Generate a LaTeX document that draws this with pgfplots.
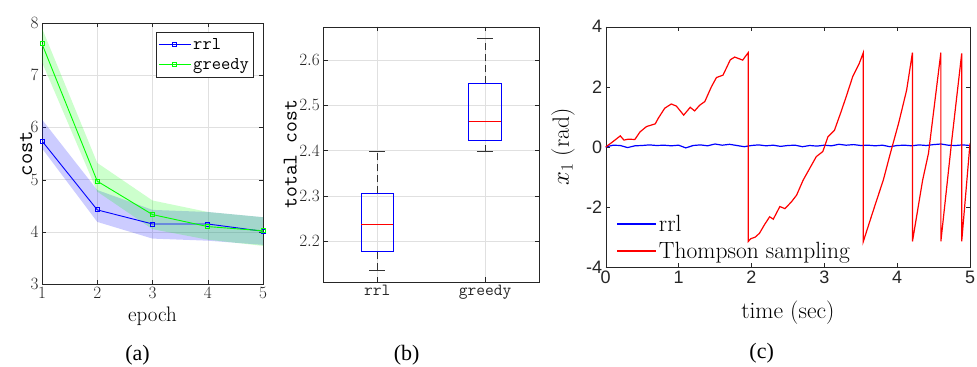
\documentclass[border=0pt]{standalone}
\usepackage{pgfplots}
\pgfplotsset{compat=1.18}
\usepgfplotslibrary{statistics}
\usepackage{fontspec}
\newfontfamily\capfont{Liberation Serif}
\newfontfamily\sansfont{Liberation Sans}
\definecolor{axgray}{gray}{0.15}
\definecolor{pureblue}{rgb}{0,0,1}
\definecolor{purered}{rgb}{1,0,0}
\begin{document}
\begin{tikzpicture}[x=1bp,y=1bp]
\path[use as bounding box] (0,0) rectangle (977,-366);
% ---------------- (a)
\begin{axis}[at={(42bp,-23bp)}, anchor=north west, scale only axis,
  width=221bp, height=261bp,
  xmin=1, xmax=5, ymin=3, ymax=8,
  xtick={1,2,3,4,5}, ytick={3,4,5,6,7,8},
  grid=major, grid style={black!12},
  axis line style={axgray}, tick style={axgray},
  ticklabel style={font=\fontsize{16.5bp}{16.5bp}\selectfont, text=axgray},
  xlabel={epoch}, xlabel style={font=\fontsize{21bp}{21bp}\selectfont, at={(axis description cs:0.5,-0.125)}, anchor=center},
  ylabel={\ttfamily cost}, ylabel style={font=\fontsize{22bp}{22bp}\selectfont, at={(axis description cs:-0.072,0.5)}, anchor=center},
  legend style={font=\ttfamily\fontsize{18bp}{18bp}\selectfont, draw=axgray, at={(axis description cs:0.955,0.966)}, anchor=north east, row sep=4bp, inner ysep=4bp, inner xsep=2bp},
  legend cell align=left,
  legend image code/.code={\draw[mark repeat=2,mark phase=2,#1] plot coordinates {(0bp,0bp) (16bp,0bp) (32bp,0bp)};},
]
\addplot[draw=none, fill=blue, fill opacity=0.2, forget plot] coordinates {(1,6.15) (2,4.80) (3,4.42) (4,4.38) (5,4.28) (5,3.75) (4,3.83) (3,3.87) (2,4.19) (1,5.60)} -- cycle;
\addplot[draw=none, fill=green, fill opacity=0.2, forget plot] coordinates {(1,7.90) (2,5.32) (3,4.60) (4,4.38) (5,4.28) (5,3.73) (4,3.85) (3,4.05) (2,4.77) (1,7.25)} -- cycle;
\addplot[draw=blue, line width=0.9bp, mark=square, mark size=2bp] coordinates {(1,5.74) (2,4.42) (3,4.15) (4,4.15) (5,4.01)};
\addplot[draw=green, line width=0.9bp, mark=square, mark size=2bp] coordinates {(1,7.60) (2,4.97) (3,4.33) (4,4.10) (5,4.02)};
\legend{rrl,greedy}
\node[anchor=south west, font=\fontsize{13bp}{13bp}\selectfont, text=axgray, inner sep=1bp] at (rel axis cs:0,1) {$\times10^{-5}$};
\end{axis}
% ---------------- (b)
\begin{axis}[at={(323.3bp,-26.7bp)}, anchor=north west, scale only axis,
  width=215.7bp, height=255bp,
  xmin=0.5, xmax=2.5, ymin=2.110, ymax=2.674,
  xtick={1,2}, xticklabels={rrl,greedy},
  ytick={2.2,2.3,2.4,2.5,2.6},
  scaled y ticks=false,
  yticklabel style={/pgf/number format/.cd, fixed, precision=1, fixed zerofill},
  grid=major, grid style={black!12},
  axis line style={axgray}, tick style={axgray},
  ticklabel style={font=\fontsize{17bp}{17bp}\selectfont, text=axgray},
  xticklabel style={font=\ttfamily\fontsize{17bp}{17bp}\selectfont},
  ylabel={\ttfamily total cost}, ylabel style={font=\fontsize{21bp}{21bp}\selectfont, at={(axis description cs:-0.153,0.5)}, anchor=center},
  boxplot/draw direction=y,
  boxplot/every box/.style={draw=blue, solid, line width=0.9bp},
  boxplot/every median/.style={draw=red, solid, line width=0.9bp},
  boxplot/every whisker/.style={draw=black!80, line width=0.9bp},
  boxplot/draw/lower whisker/.code={%
    \draw[/pgfplots/boxplot/every whisker/.try, dash pattern=on 7bp off 4bp]
      (boxplot box cs:\pgfplotsboxplotvalue{lower whisker},0.5) -- (boxplot box cs:\pgfplotsboxplotvalue{lower quartile},0.5);
    \draw[/pgfplots/boxplot/every whisker/.try]
      (boxplot whisker cs:\pgfplotsboxplotvalue{lower whisker},0) -- (boxplot whisker cs:\pgfplotsboxplotvalue{lower whisker},1);
  },
  boxplot/draw/upper whisker/.code={%
    \draw[/pgfplots/boxplot/every whisker/.try, dash pattern=on 7bp off 4bp]
      (boxplot box cs:\pgfplotsboxplotvalue{upper quartile},0.5) -- (boxplot box cs:\pgfplotsboxplotvalue{upper whisker},0.5);
    \draw[/pgfplots/boxplot/every whisker/.try]
      (boxplot whisker cs:\pgfplotsboxplotvalue{upper whisker},0) -- (boxplot whisker cs:\pgfplotsboxplotvalue{upper whisker},1);
  },
]
\addplot[black, boxplot prepared={draw position=1, lower whisker=2.135, lower quartile=2.176, median=2.237, upper quartile=2.3055, upper whisker=2.398, box extend=0.3, whisker extend=0.15}] coordinates {};
\addplot[black, boxplot prepared={draw position=2, lower whisker=2.397, lower quartile=2.423, median=2.4635, upper quartile=2.549, upper whisker=2.649, box extend=0.3, whisker extend=0.15}] coordinates {};
\node[anchor=south west, font=\fontsize{14bp}{14bp}\selectfont, text=axgray, inner sep=1bp] at (rel axis cs:0,1) {$\times10^{-4}$};
\end{axis}
% ---------------- (c)
\begin{axis}[at={(605.7bp,-26.7bp)}, anchor=north west, scale only axis,
  width=364.3bp, height=240.6bp,
  xmin=0, xmax=5, ymin=-4, ymax=4,
  xtick={0,1,2,3,4,5}, xticklabels={0,1,2,3,4,5},
  ytick={-4,-2,0,2,4}, yticklabels={-4,-2,0,2,4},
  axis line style={axgray}, tick style={axgray},
  ticklabel style={font=\sansfont\fontsize{18bp}{18bp}\selectfont, text=axgray},
  xlabel={time (sec)}, xlabel style={font=\fontsize{23.5bp}{23.5bp}\selectfont, at={(axis description cs:0.5,-0.19)}, anchor=center},
  ylabel={$x_1$ (rad)}, ylabel style={font=\fontsize{23.5bp}{23.5bp}\selectfont, at={(axis description cs:-0.117,0.5)}, anchor=center},
  legend style={font=\fontsize{23.5bp}{23.5bp}\selectfont, draw=none, fill=none, at={(axis description cs:0.02,0.015)}, anchor=south west, row sep=5bp},
  legend cell align=left,
  legend image code/.code={\draw[#1, line width=1.8bp] plot coordinates {(0bp,0bp) (19.5bp,0bp) (39bp,0bp)};},
]
\addplot[draw=pureblue, line width=1.2bp] coordinates {
(0,0.00) (0.1,0.06) (0.2,0.05) (0.3,-0.02) (0.4,0.04) (0.5,0.05) (0.6,0.07) (0.7,0.05) (0.8,0.06) (0.9,0.04)
(1.0,0.06) (1.1,-0.03) (1.2,0.05) (1.3,0.07) (1.4,0.04) (1.5,0.10) (1.6,0.06) (1.7,0.09) (1.8,0.05) (1.9,0.01)
(2.0,0.05) (2.1,0.07) (2.2,0.04) (2.3,0.06) (2.4,0.02) (2.5,0.05) (2.6,0.06) (2.7,0.01) (2.8,0.05) (2.9,0.03)
(3.0,0.06) (3.1,0.04) (3.2,0.09) (3.3,0.06) (3.4,0.08) (3.5,0.05) (3.6,0.06) (3.7,0.04) (3.8,0.06) (3.9,0.01)
(4.0,0.05) (4.1,0.06) (4.2,0.04) (4.3,0.07) (4.4,0.05) (4.5,0.08) (4.6,0.10) (4.7,0.06) (4.8,0.05) (4.9,0.07) (5.0,0.05)};
\addlegendentry{rrl}
\addplot[draw=purered, line width=1.2bp] coordinates {
(0,0) (0.10,0.18) (0.20,0.37) (0.25,0.23) (0.31,0.26) (0.40,0.25) (0.47,0.50) (0.56,0.68) (0.68,0.77) (0.72,0.95)
(0.81,1.29) (0.90,1.43) (0.97,1.36) (1.07,1.06) (1.16,1.32) (1.22,1.20) (1.29,1.39) (1.36,1.51) (1.45,2.00) (1.52,2.31)
(1.61,2.39) (1.71,2.90) (1.77,2.99) (1.88,2.89) (1.957,3.14) (1.957,-3.14) (1.99,-3.05) (2.05,-3.00) (2.11,-2.87) (2.18,-2.58)
(2.25,-2.32) (2.30,-2.40) (2.39,-1.98) (2.46,-2.05) (2.55,-1.82) (2.62,-1.60) (2.71,-1.10) (2.80,-0.71) (2.89,-0.32) (2.98,-0.15)
(3.05,0.34) (3.14,0.56) (3.23,1.17) (3.30,1.67) (3.39,2.34) (3.48,2.78) (3.536,3.14) (3.536,-3.14) (3.63,-2.43) (3.72,-1.76)
(3.81,-1.10) (3.90,-0.27) (4.02,0.79) (4.13,1.89) (4.21,3.14) (4.21,-3.14) (4.35,-1.10) (4.43,-0.21) (4.60,3.14) (4.60,-3.14)
(4.75,0.23) (4.886,3.11) (4.886,-3.14) (5.00,0.12)};
\addlegendentry{Thompson sampling}
\end{axis}
% captions
\node[font=\capfont\fontsize{22bp}{22bp}\selectfont] at (137.5,-355) {(a)};
\node[font=\capfont\fontsize{22bp}{22bp}\selectfont] at (406.7,-355) {(b)};
\node[font=\capfont\fontsize{22bp}{22bp}\selectfont] at (761.7,-353) {(c)};
\end{tikzpicture}
\end{document}
